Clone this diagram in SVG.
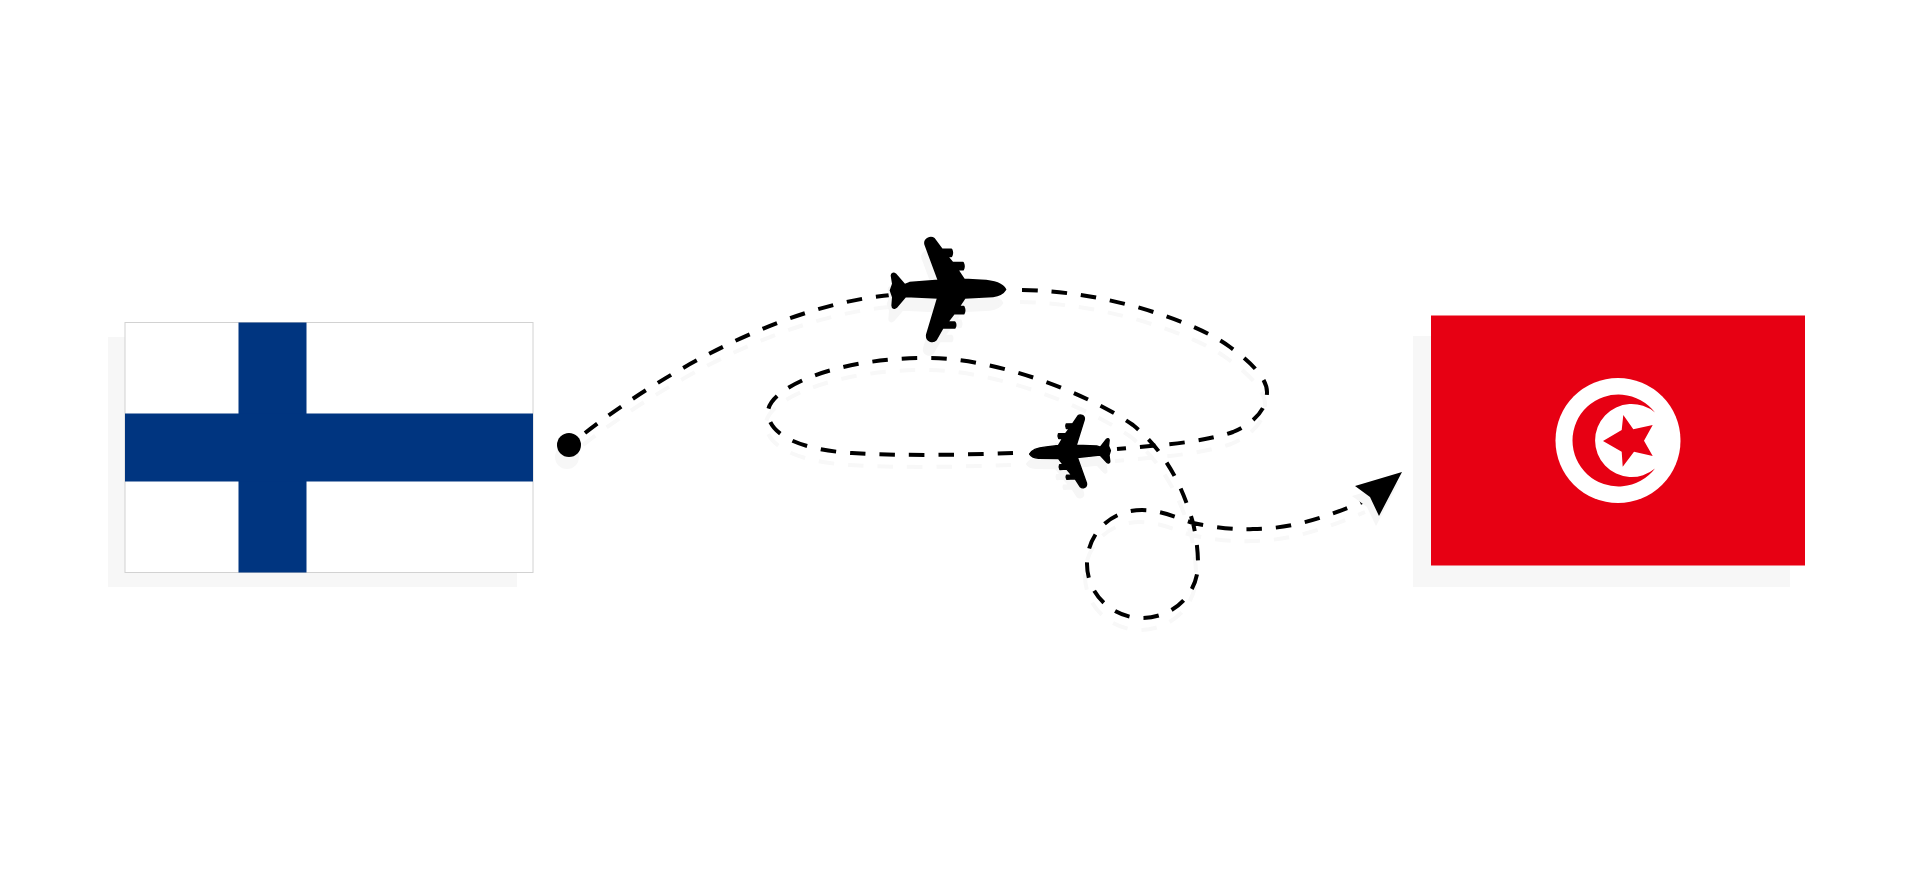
<svg xmlns="http://www.w3.org/2000/svg" xmlns:xlink="http://www.w3.org/1999/xlink" width="1920" height="886" viewBox="0 0 1920 886">
<style>
.dash{fill:none;stroke:#000;stroke-width:4;stroke-dasharray:15.5 14}
.sd{fill:none;stroke:#f8f8f8;stroke-width:4;stroke-dasharray:15.5 14}
.flagshadow{fill:#f7f7f7}
.sf{fill:#f6f6f6;stroke:#f6f6f6}
.pl{fill:#000;stroke:#000}
#plane{stroke-width:6;stroke-linejoin:round}
</style>
<defs>
<path id="plane" d="M172,0C165,-14 145,-25 100,-27L48,-30L28,-60H45Q50,-70 45,-80H14L-3,-100H10Q15,-110 10,-120H-18L-42,-152C-52,-160 -72,-152 -68,-135L-28,-27L-115,-20L-130,-14L-158,-46C-163,-50 -169,-48 -169,-42L-165,-17L-172,3L-165,23L-167,48C-167,55 -160,58 -155,53L-127,20L-30,25L-63,135C-66,155 -45,160 -36,150L-16,115H20Q25,106 20,98H-2L18,72H47Q52,62 47,52H32L50,25L135,20C150,18 165,12 172,0Z"/>
<path id="arrowhead" d="M1402,472L1355,486L1370,497L1379,516Z"/>
<path id="seg1" d="M585,433C640,390 770,305 892,295"/>
<path id="seg2" d="M1022,290C1065,291 1100,297 1137,307C1175,318 1210,332 1230,347C1255,365 1267,380 1267,392C1267,412 1250,425 1233,432C1200,443 1160,445 1117,449"/>
<path id="seg3" d="M1013,453C960,455 900,456 852,453C815,451 768,440 768,412C768,390 830,358 927,358C1000,358 1090,395 1133,425C1170,455 1185,495 1193,523C1196,535 1198,550 1198,564C1198,595 1172,618 1142,618C1112,618 1087,594 1087,564C1087,534 1110,510 1142,510C1160,510 1175,517 1193,523C1215,528 1240,530 1253,529C1290,529 1325,518 1367,500"/>
</defs>
<rect width="1920" height="886" fill="#fff"/>
<g id="flag-finland">
<rect class="flagshadow" x="108" y="337" width="409" height="250"/>
<rect x="125" y="322.500" width="408" height="250" fill="#fff" stroke="#d2d2d2" stroke-width="1"/>
<rect x="238.500" y="322.500" width="68" height="250" fill="#003580"/>
<rect x="125" y="413.500" width="408" height="68" fill="#003580"/>
</g>
<g id="flag-tunisia">
<rect class="flagshadow" x="1413" y="336" width="377" height="251"/>
<rect x="1431" y="315.500" width="374" height="250" fill="#e70013"/>
<circle cx="1618" cy="440.500" r="62.500" fill="#fff"/>
<path d="M1655,412.500A46,46 0 1 0 1655,468.500A36.500,36.500 0 1 1 1655,412.500Z" fill="#e70013"/>
<polygon points="1603,441 1621.700,430 1623.300,415 1633.300,429.300 1652.700,425 1644,440.700 1652.700,456 1634,451.700 1622.700,466.700 1621.700,451.700" fill="#e70013"/>
</g>
<g id="connector-shadows" transform="translate(-2,12)">
<use xlink:href="#seg1" href="#seg1" class="sd"/>
<use xlink:href="#seg2" href="#seg2" class="sd"/>
<use xlink:href="#seg3" href="#seg3" class="sd"/>
</g>
<g id="connectors">
<use xlink:href="#seg1" href="#seg1" class="dash"/>
<use xlink:href="#seg2" href="#seg2" class="dash"/>
<use xlink:href="#seg3" href="#seg3" class="dash"/>
</g>
<g id="origin-dot">
<circle cx="567" cy="457" r="12" fill="#f7f7f7"/>
<circle cx="569" cy="445" r="12" fill="#000"/>
</g>
<g id="plane-large">
<use xlink:href="#plane" href="#plane" class="sf" transform="translate(945,303) scale(.3333)"/>
<use xlink:href="#plane" href="#plane" class="pl" transform="translate(948,289.500) scale(.3333)"/>
</g>
<g id="plane-small">
<use xlink:href="#plane" href="#plane" class="sf" transform="translate(1067,462) rotate(-3) scale(-.235,.235)"/>
<use xlink:href="#plane" href="#plane" class="pl" transform="translate(1070,452) rotate(-3) scale(-.235,.235)"/>
</g>
<g id="destination-arrow">
<use xlink:href="#arrowhead" href="#arrowhead" fill="#f6f6f6" transform="translate(-3,10)"/>
<use xlink:href="#arrowhead" href="#arrowhead"/>
</g>
</svg>
